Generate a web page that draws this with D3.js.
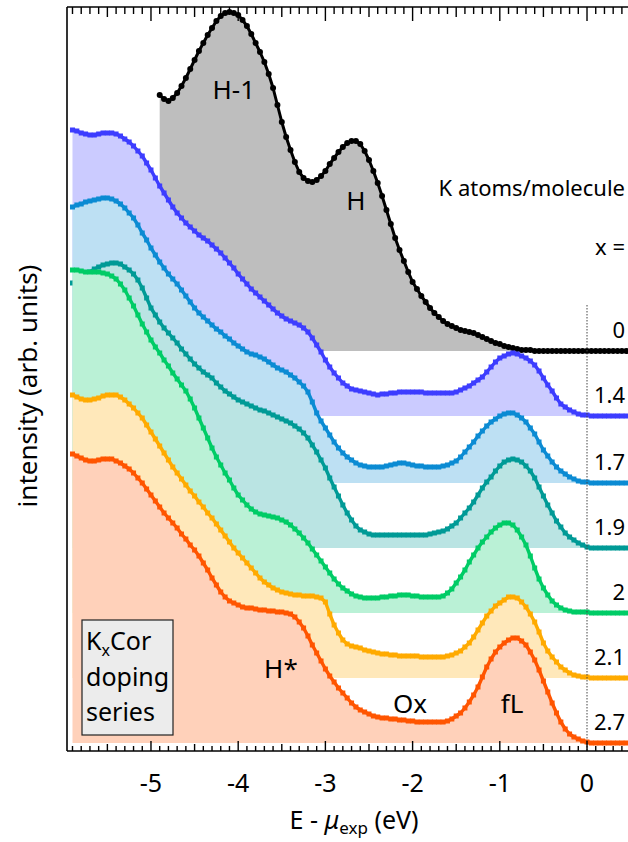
<!DOCTYPE html>
<html>
<head>
<meta charset="utf-8">
<script src="https://cdn.jsdelivr.net/npm/d3@7"></script>
<style>
  body { margin: 0; background: #fff; }
  svg { display: block; }
  text { font-family: "Noto Sans", "DejaVu Sans", sans-serif; fill: #000; }
</style>
</head>
<body>
<svg id="chart" width="628" height="842"></svg>
<script>
// K_xCor photoemission doping series: spectra stacked with a vertical offset each.
const dopingLabels = ["0", "1.4", "1.7", "1.9", "2", "2.1", "2.7"];
const lineColors = ["#000000", "#3d3dff", "#0b8bd3", "#009a96", "#00cc66", "#ffaa00", "#ff5500"];
const offsets = [400, 335, 268, 203, 138, 73, 8];
const startEnergy = [-4.9, -5.9, -5.9, -5.9, -5.9, -5.9, -5.9];
const energyStep = 0.05;

// intensities above each spectrum's own baseline (arb. units)
const x00 = [256,252,250,253,258,265,273,282,291,300, 308,316,323,330,335,338,339,338,336,331,
  325,317,308,299,289,277,263,246,229,214, 201,189,179,173,170,169,171,175,180,187,
  193,199,204,208,210,210,207,200,191,180, 168,155,141,127,113,101,90,79,69,62,
  55,49,43,38,34,30,27,25,23,21, 20,19,18,16,14,12,10,8,7,5,
  4,3,2,1,1,1,0,0,0,0, 0,0,0,0,0,0,0,0,0,0, 0,0,0,0,0,0,0,0];
const x14 = [286,285,283,282,281,281,282,283,283,283, 282,280,277,274,270,265,260,253,246,238,
  230,223,216,209,203,198,193,189,185,181, 178,175,171,167,163,158,153,148,142,137,
  132,127,123,119,115,111,107,103,100,97, 95,93,91,88,84,78,71,64,56,49,
  43,38,33,30,27,26,25,24,23,22, 21,22,22,23,23,24,24,24,24,24,
  24,23,23,23,23,23,23,23,24,26, 28,30,33,36,39,44,49,54,58,60,
  62,63,62,60,58,55,51,45,38,31, 25,18,12,9,6,4,2,1,1,0, 0,0,0,0,0,0,0,0];
const x17 = [276,278,279,281,282,283,284,285,285,284, 282,279,275,270,265,258,250,243,235,228,
  221,215,209,204,199,193,187,181,175,170, 166,162,158,154,151,147,144,140,137,134,
  131,129,128,126,124,121,118,115,113,111, 108,105,101,97,91,81,70,62,55,48,
  41,35,30,26,23,20,18,17,16,16, 16,16,17,18,19,20,20,19,18,17,
  17,16,16,16,16,17,18,20,22,26, 31,36,41,47,52,57,61,64,67,69,
  70,70,68,65,61,55,49,41,33,27, 21,16,12,9,6,4,2,1,1,0, 0,0,0,0,0,0,0,0];
const x19 = [265,268,270,273,276,279,281,283,284,285, 285,284,281,278,274,268,260,250,240,233,
  226,220,215,210,205,199,194,189,184,180, 176,173,170,165,161,157,154,151,148,146,
  144,142,140,138,137,135,133,131,129,127, 125,122,119,115,110,103,96,88,80,70,
  61,52,43,35,28,22,18,16,14,13, 13,13,13,13,13,13,13,13,13,13,
  13,13,14,15,16,17,19,22,25,30, 35,40,46,53,60,66,71,77,82,86,
  88,89,88,86,82,77,70,61,52,43, 35,27,21,15,11,8,5,3,1,0, 0,0,0,0,0,0,0,0];
const x20 = [343,343,342,341,341,341,341,340,339,337, 334,329,323,315,307,298,289,281,273,266,
  260,253,247,240,234,228,222,214,205,195, 185,175,165,156,148,140,133,125,118,113,
  108,104,101,99,98,97,96,95,93,91, 88,84,80,75,70,64,58,52,46,40,
  34,29,25,22,19,17,16,15,15,15, 15,16,16,17,17,18,18,18,17,17,
  16,16,16,16,16,17,20,24,30,36, 43,51,58,65,71,76,81,85,88,90,
  90,88,83,76,68,57,45,34,25,18, 12,8,5,3,2,1,1,1,1,0, 0,0,0,0,0,0,0,0];
const x21 = [283,281,279,278,278,279,280,282,283,283, 283,281,278,274,270,265,260,253,246,239,
  232,225,218,211,205,199,193,187,182,176, 171,165,160,154,148,142,136,130,125,120,
  115,110,105,100,96,93,90,88,86,85, 84,83,83,82,82,82,81,80,76,64,
  53,45,38,34,32,31,30,28,27,26, 25,24,24,23,23,22,22,22,22,22,
  21,21,21,21,21,21,22,23,25,27, 31,35,41,48,55,62,67,72,75,78,
  81,81,80,76,71,64,56,46,35,27, 21,16,11,8,5,3,2,1,1,0, 0,0,0,0,0,0,0,0];
const x27 = [289,287,285,283,282,282,283,284,284,284, 282,280,277,274,270,265,260,254,248,242,
  236,230,225,220,215,209,204,198,193,187, 180,173,165,158,151,146,142,140,138,136,
  135,135,134,133,133,132,132,131,131,130, 129,126,121,115,107,98,90,82,74,67,
  61,55,50,45,40,36,33,31,29,27, 26,25,25,24,24,23,23,22,22,21,
  21,21,21,21,21,21,22,24,27,30, 35,41,48,56,66,76,84,91,96,100,
  103,105,105,102,98,91,83,73,62,51, 40,30,21,14,9,6,4,2,1,0, 0,0,0,0,0,0,0,0];
const spectra = [x00, x14, x17, x19, x20, x21, x27];

const xTickValues = [-5, -4, -3, -2, -1, 0];
// peak names, placed by energy and by height above the named spectrum's baseline
const peakLabels = [
  { text: "H-1", e: -4.05, h: 252, spectrum: 0 },
  { text: "H",   e: -2.65, h: 141, spectrum: 0 },
  { text: "H*",  e: -3.51, h: 65,  spectrum: 6 },
  { text: "Ox",  e: -2.03, h: 30,  spectrum: 6 },
  { text: "fL",  e: -0.86, h: 30,  spectrum: 6 }
];

const svg = d3.select("#chart");
const W = 628, H = 842;
const margin = { left: 67, top: 7, bottom: 751, right: 628 };

const x = d3.scaleLinear().domain([-5.963, 0.47]).range([margin.left, margin.right]);
const y = d3.scaleLinear().domain([0, 744]).range([margin.bottom, margin.top]);

svg.append("rect").attr("width", W).attr("height", H).attr("fill", "#fff");

const plot = svg.append("g");

spectra.forEach((vals, i) => {
  const pts = vals.map((v, k) => ({ e: startEnergy[i] + k * energyStep, v: v + offsets[i] }));
  const color = lineColors[i];
  const fill = i === 0 ? "#bebebe" : d3.interpolateRgb("#ffffff", color)(0.27);
  const area = d3.area().x(d => x(d.e)).y0(y(offsets[i])).y1(d => y(d.v));
  const line = d3.line().x(d => x(d.e)).y(d => y(d.v));
  const g = plot.append("g");
  g.append("path").datum(pts).attr("d", area).attr("fill", fill).attr("stroke", "none");
  g.append("path").datum(pts).attr("d", line).attr("fill", "none")
    .attr("stroke", color).attr("stroke-width", i === 0 ? 3 : 3.4).attr("stroke-linejoin", "round");
  if (i === 0) {
    g.selectAll("circle").data(pts).join("circle")
      .attr("cx", d => x(d.e)).attr("cy", d => y(d.v)).attr("r", 3).attr("fill", color);
  } else {
    const s = 5;
    g.selectAll("rect").data(pts).join("rect")
      .attr("x", d => x(d.e) - s / 2).attr("y", d => y(d.v) - s / 2)
      .attr("width", s).attr("height", s).attr("fill", color);
  }
});

// chemical potential marker
svg.append("line")
  .attr("x1", x(0)).attr("x2", x(0)).attr("y1", 305).attr("y2", margin.bottom)
  .attr("stroke", "#444").attr("stroke-width", 1).attr("stroke-dasharray", "1.5,1.5");

// peak annotations
peakLabels.forEach(p => {
  svg.append("text")
    .attr("x", x(p.e)).attr("y", y(offsets[p.spectrum] + p.h))
    .attr("text-anchor", "middle").attr("font-size", 26)
    .text(p.text);
});

// doping values on the right
svg.append("text").attr("x", 625).attr("y", 196).attr("text-anchor", "end")
  .attr("font-size", 22).text("K atoms/molecule");
svg.append("text").attr("x", 625).attr("y", 255).attr("text-anchor", "end")
  .attr("font-size", 22).text("x =");
dopingLabels.forEach((lab, i) => {
  svg.append("text").attr("x", 625).attr("y", y(offsets[i]) - 13)
    .attr("text-anchor", "end").attr("font-size", 22).text(lab);
});

// legend box
const box = svg.append("g");
box.append("rect").attr("x", 82).attr("y", 620).attr("width", 91).attr("height", 115)
  .attr("fill", "#ececec").attr("stroke", "#222").attr("stroke-width", 1.2);
const t1 = box.append("text").attr("x", 86).attr("y", 650).attr("font-size", 25);
t1.append("tspan").text("K");
t1.append("tspan").attr("font-size", 16).attr("dy", 6).text("x");
t1.append("tspan").attr("dy", -6).text("Cor");
box.append("text").attr("x", 86).attr("y", 686).attr("font-size", 25).text("doping");
box.append("text").attr("x", 86).attr("y", 721).attr("font-size", 25).text("series");

// frame and ticks
const minorTicks = d3.range(-59, 5).map(k => k / 10);
const frame = svg.append("g").attr("stroke", "#000");
frame.append("line").attr("x1", margin.left).attr("x2", W).attr("y1", margin.top).attr("y2", margin.top).attr("stroke-width", 1.6);
frame.append("line").attr("x1", margin.left).attr("x2", W).attr("y1", margin.bottom).attr("y2", margin.bottom).attr("stroke-width", 1.6);
frame.append("line").attr("x1", margin.left).attr("x2", margin.left).attr("y1", margin.top).attr("y2", margin.bottom).attr("stroke-width", 1.6);
minorTicks.forEach(t => {
  const k = Math.round(t * 10);
  const major = k % 10 === 0, half = k % 5 === 0;
  const topLen = major ? 14 : half ? 10 : 7;
  const botLen = major ? 10 : half ? 7 : 5;
  frame.append("line").attr("x1", x(t)).attr("x2", x(t))
    .attr("y1", margin.top).attr("y2", margin.top + topLen).attr("stroke-width", 1.4);
  frame.append("line").attr("x1", x(t)).attr("x2", x(t))
    .attr("y1", margin.bottom).attr("y2", margin.bottom - botLen).attr("stroke-width", 1.4);
});

svg.append("g").selectAll("text").data(xTickValues).join("text")
  .attr("x", d => x(d)).attr("y", 792).attr("text-anchor", "middle")
  .attr("font-size", 25).text(d => d === 0 ? "0" : "-" + Math.abs(d));

// axis titles
const xt = svg.append("text").attr("x", 354).attr("y", 829).attr("text-anchor", "middle").attr("font-size", 25);
xt.append("tspan").text("E - ");
xt.append("tspan").attr("font-style", "italic").text("\u03bc");
xt.append("tspan").attr("font-size", 17).attr("dy", 5).text("exp");
xt.append("tspan").attr("dy", -5).text(" (eV)");

svg.append("text").attr("transform", "translate(37,386) rotate(-90)")
  .attr("text-anchor", "middle").attr("font-size", 26).text("intensity (arb. units)");
</script>
</body>
</html>
